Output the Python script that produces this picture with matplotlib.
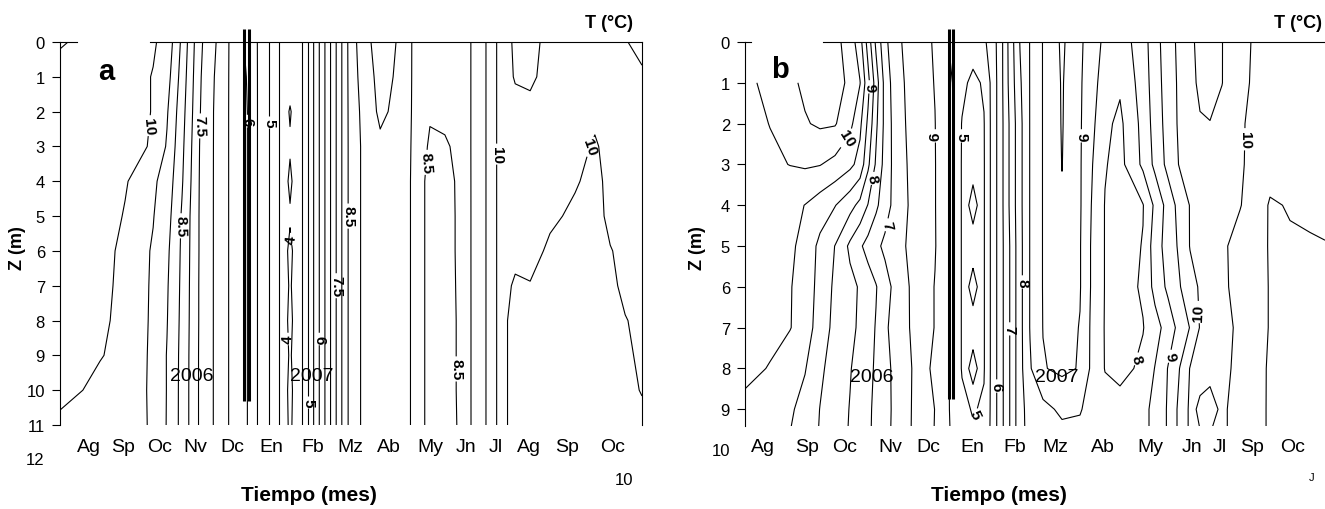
import numpy as np
import matplotlib
matplotlib.use("Agg")
import matplotlib.pyplot as plt
from matplotlib import font_manager

installed = {f.name for f in font_manager.fontManager.ttflist}
NARROW = "Liberation Sans Narrow" if "Liberation Sans Narrow" in installed else "Liberation Sans"
plt.rcParams["font.family"] = ["Liberation Sans", "DejaVu Sans"]

LEVELS = [4.0, 4.5, 5.0, 5.5, 6.0, 6.5, 7.0, 7.5, 8.0, 8.5, 9.0, 9.5, 10.0, 10.5]

# ---------------- panel a ----------------
# time in months from the left edge of the panel, depth in m
time_a = [0.00, 1.07, 1.74, 2.49, 2.86, 3.26, 3.74, 4.14, 4.55, 5.03,
          5.29, 5.61, 5.88, 6.02, 6.15, 6.28, 6.42, 7.67, 8.07, 8.56,
          9.09, 9.44, 9.89, 10.29, 10.70, 11.02, 11.36, 11.76, 12.17, 12.57,
          13.10, 13.77, 14.30, 14.71, 15.11, 15.56]
depth_a = [0, 1, 2, 3, 4, 5, 6, 7, 8, 9, 10, 11]

# one temperature profile (0..11 m) per time node
profiles_a = [
    [10.55, 10.3, 10.3, 10.3, 10.3, 10.3, 10.3, 10.3, 10.3, 10.25, 10.2, 9.85],
    [10.3, 10.3, 10.3, 10.3, 10.3, 10.3, 10.3, 10.3, 10.15, 10.03, 9.85, 9.7],
    [10.2, 10.2, 10.2, 10.15, 10.05, 9.96, 9.8, 9.72, 9.78, 9.84, 9.7, 9.65],
    [10.05, 9.98, 9.98, 9.96, 9.58, 9.52, 9.46, 9.46, 9.44, 9.41, 9.44, 9.46],
    [9.85, 9.7, 9.55, 9.45, 9.3, 9.2, 9.1, 9.05, 9.02, 8.98, 8.98, 8.97],
    [8.9, 8.8, 8.7, 8.62, 8.55, 8.45, 8.42, 8.4, 8.38, 8.36, 8.35, 8.35],
    [7.6, 7.55, 7.52, 7.48, 7.46, 7.45, 7.45, 7.44, 7.44, 7.43, 7.43, 7.43],
    [7.05, 6.98, 6.95, 6.95, 6.95, 6.95, 6.95, 6.95, 6.95, 6.95, 6.95, 6.95],
    [6.45, 6.45, 6.45, 6.45, 6.45, 6.45, 6.45, 6.45, 6.45, 6.45, 6.45, 6.45],
    [5.85, 5.95, 5.98, 5.98, 5.98, 5.98, 5.98, 5.98, 5.98, 5.98, 5.98, 5.98],
    [5.48, 5.48, 5.48, 5.48, 5.48, 5.48, 5.48, 5.48, 5.48, 5.48, 5.48, 5.48],
    [4.98, 4.98, 4.98, 4.98, 4.98, 4.98, 4.98, 4.98, 4.98, 4.98, 4.98, 4.98],
    [4.45, 4.45, 4.45, 4.45, 4.45, 4.45, 4.45, 4.45, 4.45, 4.45, 4.45, 4.45],
    [4.3, 4.2, 4.1, 4.1, 4.1, 4.1, 4.08, 4.08, 4.08, 4.08, 4.08, 4.08],
    [4.25, 4.15, 3.97, 4.04, 3.93, 4.04, 3.92, 3.97, 3.92, 3.97, 3.92, 3.95],
    [4.3, 4.2, 4.1, 4.1, 4.1, 4.1, 4.08, 4.08, 4.08, 4.08, 4.08, 4.08],
    [4.3, 4.3, 4.3, 4.3, 4.3, 4.3, 4.3, 4.3, 4.3, 4.3, 4.3, 4.3],
    [8.45, 8.45, 8.45, 8.45, 8.45, 8.45, 8.45, 8.45, 8.45, 8.45, 8.45, 8.45],
    [9.3, 9.2, 9.1, 9.05, 9.05, 9.05, 9.05, 9.05, 9.05, 9.05, 9.05, 9.05],
    [9.7, 9.65, 9.6, 9.4, 9.3, 9.25, 9.22, 9.2, 9.2, 9.2, 9.2, 9.2],
    [9.45, 9.42, 9.35, 9.25, 9.2, 9.2, 9.2, 9.2, 9.2, 9.2, 9.2, 9.2],
    [8.95, 8.95, 8.95, 8.95, 8.95, 8.95, 8.95, 8.95, 8.95, 8.95, 8.95, 8.95],
    [8.8, 8.7, 8.56, 8.42, 8.3, 8.3, 8.3, 8.3, 8.3, 8.3, 8.3, 8.3],
    [8.85, 8.75, 8.6, 8.45, 8.36, 8.36, 8.36, 8.36, 8.36, 8.36, 8.36, 8.36],
    [8.6, 8.6, 8.6, 8.6, 8.58, 8.57, 8.57, 8.56, 8.55, 8.55, 8.55, 8.54],
    [9.05, 9.05, 9.05, 9.05, 9.05, 9.05, 9.05, 9.05, 9.05, 9.05, 9.05, 9.05],
    [9.45, 9.45, 9.45, 9.45, 9.45, 9.45, 9.45, 9.45, 9.45, 9.45, 9.45, 9.45],
    [10.15, 10.15, 10.15, 10.15, 10.15, 10.15, 10.15, 10.15, 10.15, 10.15, 10.15, 10.15],
    [10.6, 10.55, 10.3, 10.2, 10.2, 10.15, 10.1, 9.95, 9.85, 9.85, 9.85, 9.85],
    [10.65, 10.6, 10.35, 10.2, 10.2, 10.2, 10.2, 9.97, 9.85, 9.85, 9.85, 9.85],
    [10.35, 10.3, 10.25, 10.2, 10.2, 10.1, 9.9, 9.85, 9.85, 9.85, 9.85, 9.85],
    [10.3, 10.25, 10.2, 10.15, 10.05, 9.9, 9.85, 9.85, 9.85, 9.85, 9.85, 9.85],
    [10.3, 10.25, 10.1, 9.95, 9.85, 9.85, 9.85, 9.85, 9.85, 9.85, 9.85, 9.85],
    [10.2, 10.15, 10.15, 10.15, 10.15, 10.1, 9.98, 9.9, 9.85, 9.85, 9.85, 9.85],
    [10.02, 10.1, 10.1, 10.1, 10.1, 10.1, 10.1, 10.1, 9.98, 9.9, 9.9, 9.9],
    [9.9, 10.05, 10.1, 10.1, 10.1, 10.1, 10.1, 10.1, 10.1, 10.1, 10.02, 9.9],
]

months_a = ["Ag", "Sp", "Oc", "Nv", "Dc", "En", "Fb", "Mz", "Ab", "My", "Jn", "Jl", "Ag", "Sp", "Oc"]
month_pos_a = [0.78, 1.68, 2.65, 3.61, 4.60, 5.64, 6.76, 7.75, 8.80, 9.89, 10.86, 11.66, 12.54, 13.56, 14.76]
labels_at_a = [(2.46, 2.41), (3.74, 2.41), (5.03, 2.27), (5.61, 2.30), (3.26, 5.28),
               (6.15, 5.66), (6.07, 8.53), (7.67, 5.0), (7.40, 7.0), (6.90, 8.53),
               (6.63, 10.34), (9.71, 3.45), (11.84, 3.22), (14.12, 2.99), (10.78, 9.39)]

# ---------------- panel b ----------------
time_b = [0.0, 0.625, 1.125, 1.5, 1.875, 2.25, 2.625, 2.875, 3.075, 3.275,
          3.5, 3.75, 4.125, 4.75, 5.125, 5.425, 5.7, 5.975, 6.175, 6.375,
          6.625, 6.875, 7.125, 7.45, 7.925, 8.375, 8.625, 9.0, 9.375, 9.95,
          10.25, 10.575, 10.875, 11.125, 11.375, 11.625, 11.925, 12.375, 12.75, 13.125,
          13.625, 14.125, 14.5]
depth_b = [0, 1, 2, 3, 4, 5, 6, 7, 8, 9, 10]
nan = np.nan
# one row of temperatures per depth (no data at the surface of the first nodes)
rows_b = [
    [nan, nan, nan, nan, nan, 10.64, 10.29, 9.7, 8.8, 7.9, 7.14, 6.64, 6.33, 5.95, 5.58, 5.37, 5.2, 5.42, 5.72, 6.25,
     7.2, 8.02, 8.52, 9.02, 9.58, 9.1, 8.77, 8.4, 8.23, 8.78, 9.31, 9.77, 10.14, 10.42, 10.6, 10.66, 10.51, 10.16, 9.94, 9.8,
     9.8, 9.8, 9.8],
    [9.9, 10.11, 10.4, 10.59, 10.7, 10.65, 10.42, 10.02, 9.17, 8.25, 7.33, 6.73, 6.36, 5.98, 5.52, 5.1, 4.9, 5.05, 5.64, 6.25,
     7.17, 7.93, 8.52, 9.02, 9.54, 9.07, 8.71, 8.3, 8.07, 8.72, 9.27, 9.73, 10.11, 10.39, 10.57, 10.62, 10.51, 10.12, 9.93, 9.82,
     9.83, 9.84, 9.85],
    [9.85, 10.01, 10.3, 10.46, 10.57, 10.54, 10.14, 9.61, 8.9, 8.1, 7.36, 6.79, 6.38, 6.01, 5.49, 4.98, 4.85, 4.98, 5.64, 6.25,
     7.08, 7.86, 8.52, 9.02, 9.53, 9.05, 8.7, 8.1, 7.9, 8.65, 9.21, 9.7, 10.1, 10.3, 10.47, 10.49, 10.35, 10.05, 9.9, 9.82,
     9.82, 9.83, 9.85],
    [9.8, 9.92, 10.01, 10.06, 10.02, 9.85, 9.62, 9.33, 8.6, 7.93, 7.31, 6.83, 6.42, 6.02, 5.48, 4.97, 4.8, 4.97, 5.64, 6.25,
     7.08, 7.86, 8.52, 9.02, 9.51, 9.05, 8.6, 8.03, 7.85, 8.6, 9.12, 9.65, 10.05, 10.2, 10.3, 10.32, 10.3, 10.04, 9.9, 9.7,
     9.75, 9.8, 9.82],
    [9.75, 9.7, 9.65, 9.49, 9.26, 9.02, 8.67, 8.36, 7.98, 7.6, 7.21, 6.85, 6.45, 6.02, 5.48, 4.97, 4.2, 4.97, 5.64, 6.25,
     7.08, 7.86, 8.52, 9.02, 9.45, 9.05, 8.55, 7.98, 7.8, 7.98, 8.6, 9.2, 9.7, 10.02, 10.2, 10.25, 10.2, 10.02, 9.8, 9.45,
     9.53, 9.6, 9.62],
    [9.7, 9.65, 9.6, 9.33, 8.88, 8.49, 7.9, 7.57, 7.33, 7.11, 6.9, 6.7, 6.42, 6.03, 5.48, 4.97, 4.85, 4.97, 5.64, 6.25,
     7.02, 7.84, 8.52, 9.02, 9.3, 9.03, 8.52, 7.98, 7.8, 8.02, 8.77, 9.2, 9.6, 10.02, 10.12, 10.2, 10.07, 9.85, 9.66, 9.47,
     9.45, 9.45, 9.48],
    [9.65, 9.58, 9.53, 9.29, 8.83, 8.41, 8.14, 7.95, 7.74, 7.53, 7.19, 6.88, 6.48, 5.98, 5.48, 4.97, 4.2, 4.97, 5.64, 6.25,
     7.02, 7.84, 8.52, 9.02, 9.25, 9.03, 8.52, 7.98, 7.8, 8.06, 8.67, 9.1, 9.48, 9.83, 10.05, 10.15, 10.07, 9.88, 9.65, 9.48,
     9.4, 9.4, 9.4],
    [9.6, 9.55, 9.52, 9.27, 8.75, 8.37, 8.12, 7.92, 7.69, 7.47, 7.08, 6.83, 6.49, 5.98, 5.48, 4.97, 4.85, 4.97, 5.64, 6.25,
     7.02, 7.84, 8.52, 9.01, 9.2, 8.98, 8.49, 7.97, 7.8, 7.98, 8.29, 8.73, 9.17, 9.52, 10.03, 10.11, 10.1, 9.94, 9.65, 9.48,
     9.45, 9.42, 9.4],
    [9.55, 9.49, 9.22, 9.03, 8.59, 8.29, 8.03, 7.81, 7.62, 7.44, 7.15, 6.89, 6.55, 5.86, 5.48, 4.97, 4.2, 4.97, 5.64, 6.25,
     7.02, 7.84, 8.45, 8.97, 9.1, 8.97, 8.48, 7.98, 7.85, 8.1, 8.52, 9.02, 9.52, 10.02, 10.1, 10.08, 10.1, 9.9, 9.65, 9.45,
     9.4, 9.38, 9.35],
    [9.45, 9.17, 9.07, 8.83, 8.49, 8.25, 7.98, 7.77, 7.59, 7.39, 7.16, 6.9, 6.53, 5.99, 5.48, 5.1, 4.97, 5.05, 5.64, 6.25,
     7.02, 7.84, 8.2, 8.35, 8.6, 8.55, 8.3, 8.2, 8.2, 8.35, 8.65, 9.05, 9.65, 10.08, 9.95, 9.9, 10.05, 9.88, 9.64, 9.45,
     9.38, 9.35, 9.32],
    [9.3, 9.05, 8.95, 8.75, 8.45, 8.2, 7.95, 7.75, 7.57, 7.37, 7.14, 6.88, 6.52, 5.97, 5.52, 5.2, 5.1, 5.15, 5.64, 6.25,
     7.02, 7.84, 8.15, 8.25, 8.2, 8.2, 8.25, 8.2, 8.2, 8.35, 8.65, 9.05, 9.65, 10.08, 10.05, 10.06, 10.05, 9.88, 9.64, 9.45,
     9.38, 9.35, 9.32],
]

months_b = ["Ag", "Sp", "Oc", "Nv", "Dc", "En", "Fb", "Mz", "Ab", "My", "Jn", "Jl", "Sp", "Oc"]
month_pos_b = [0.45, 1.55, 2.5, 3.63, 4.58, 5.68, 6.75, 7.75, 8.95, 10.13, 11.18, 11.88, 12.68, 13.68]
labels_at_b = [(2.575, 2.38), (3.125, 1.1), (3.275, 3.36), (3.675, 4.51), (4.8, 2.3),
               (5.375, 2.3), (6.27, 8.43), (6.625, 7.03), (6.925, 5.88), (5.875, 9.19),
               (8.425, 2.3), (9.8, 7.77), (10.62, 7.7), (11.3, 6.62), (12.325, 2.38)]


def fx(px):
    return px / 1325


def fy(py):
    return 1 - py / 510


fig = plt.figure(figsize=(13.25, 5.1), dpi=100)
ax_a = fig.add_axes([fx(60), fy(426), 582 / 1325, 383 / 510])
ax_b = fig.add_axes([fx(745), fy(427), 580 / 1325, 384 / 510])


def draw_panel(ax, t, z, temp, xmax, zmax, label_pos, months, month_pos, nticks,
               extra_tick, top_segments, bars, bar_span, right_spine):
    cs = ax.contour(t, z, temp, levels=LEVELS, colors="black", linewidths=0.8)
    texts = ax.clabel(cs, manual=label_pos, inline=True, fmt="%g", fontsize=11, inline_spacing=2)
    for tx in texts:
        tx.set_fontweight("bold")
    ax.set_xlim(0, xmax)
    ax.set_ylim(zmax, 0)

    for s in ["top", "bottom"]:
        ax.spines[s].set_visible(False)
    ax.spines["right"].set_visible(right_spine)
    ax.spines["left"].set_linewidth(0.8)
    ax.spines["right"].set_linewidth(0.8)
    for x0, x1 in top_segments:
        ax.axhline(0, xmin=x0, xmax=x1, color="black", lw=0.8, clip_on=False)

    ax.set_yticks(range(nticks))
    ax.set_yticklabels([str(i) for i in range(nticks)], fontfamily=NARROW, fontsize=12)
    ax.text(-0.026, extra_tick, str(extra_tick),
            transform=ax.get_yaxis_transform(), ha="right", va="center",
            fontfamily=NARROW, fontsize=12, clip_on=False)
    ax.tick_params(axis="y", direction="out", length=5.8, width=0.8, pad=5)

    ax.set_xticks(month_pos)
    ax.set_xticklabels(months, fontsize=14)
    ax.tick_params(axis="x", length=0, pad=9)

    ax.vlines(bars, bar_span[0], bar_span[1], colors="black", linewidth=2.2, clip_on=False)


draw_panel(ax_a, time_a, depth_a, np.array(profiles_a).T, 15.56, 11, labels_at_a,
           months_a, month_pos_a, 12, 12, [(0.0, 0.029), (0.155, 1.0)],
           [4.906, 5.04], (-0.37, 10.31), True)
draw_panel(ax_b, time_b, depth_b, np.ma.masked_invalid(np.array(rows_b)), 14.5, 9.41, labels_at_b,
           months_b, month_pos_b, 10, 10, [(0.0, 0.011), (0.134, 1.0)],
           [5.1, 5.21], (-0.32, 8.75), False)

# year marks inside the panels
ax_a.text(3.53, 9.59, "2006", fontsize=14, ha="center", va="center")
ax_a.text(6.74, 9.59, "2007", fontsize=14, ha="center", va="center")
ax_b.text(3.18, 8.19, "2006", fontsize=14, ha="center", va="center")
ax_b.text(7.80, 8.19, "2007", fontsize=14, ha="center", va="center")

# figure texts
for x in (17, 698):
    fig.text(fx(x), fy(248), "Z (m)", rotation=90, fontsize=13, fontweight="bold",
             ha="center", va="center")
for x in (309, 999):
    fig.text(fx(x), fy(496), "Tiempo (mes)", fontsize=15, fontweight="bold",
             ha="center", va="center")
fig.text(fx(633), fy(23), "T (°C)", fontsize=13, fontweight="bold",
         fontfamily=NARROW, ha="right", va="center")
fig.text(fx(1322), fy(23), "T (°C)", fontsize=13, fontweight="bold",
         fontfamily=NARROW, ha="right", va="center")
fig.text(fx(106), fy(72), "a", fontsize=21, fontweight="bold", ha="center", va="center")
fig.text(fx(780), fy(70), "b", fontsize=21, fontweight="bold", ha="center", va="center")
fig.text(fx(624), fy(481), "10", fontsize=12, fontfamily=NARROW, ha="center", va="center")
fig.text(fx(1312), fy(478), "J", fontsize=8, ha="center", va="center")

fig.savefig("out.png", dpi=100)
